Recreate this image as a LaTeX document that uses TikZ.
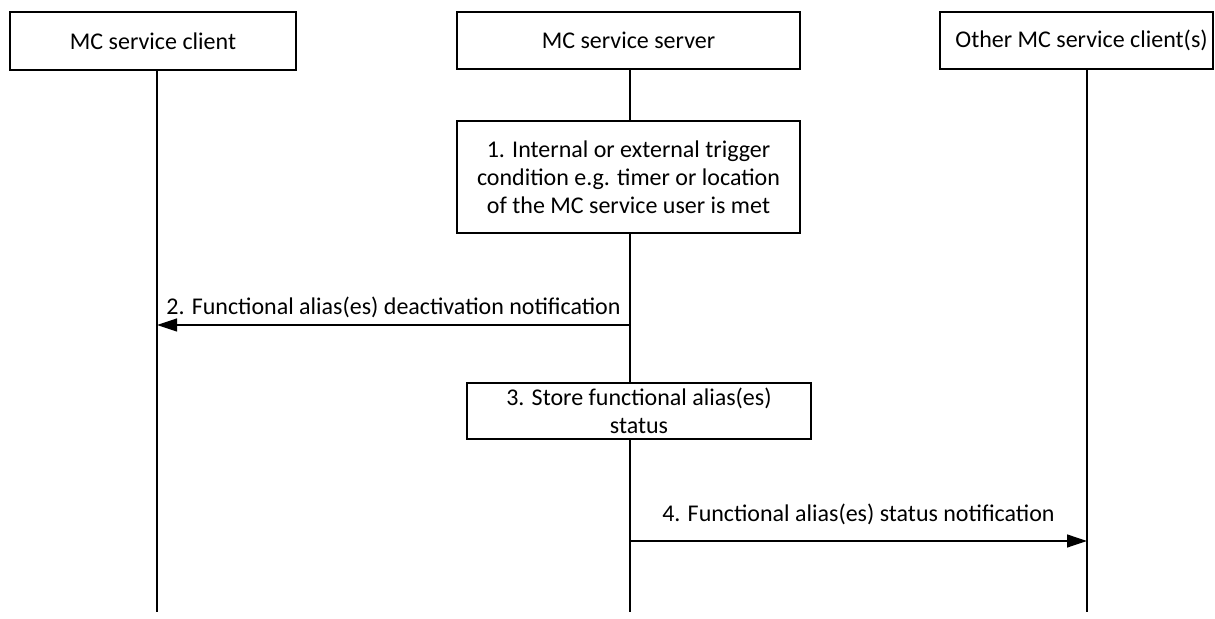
\documentclass[tikz,border=0pt]{standalone}
\usepackage{fontspec}
\setmainfont{Carlito}
\usetikzlibrary{arrows.meta}
\begin{document}
\begin{tikzpicture}[x=0.5pt,y=-0.5pt,
  font=\fontsize{12}{14}\selectfont,
  box/.style={draw, line width=0.6pt, align=center, inner sep=0pt},
  life/.style={line width=0.6pt},
  msg/.style={line width=0.6pt, -{Triangle[length=10pt,width=6.5pt]}}]
\useasboundingbox (0,0) rectangle (1215,619);
\node[box, minimum width=143pt, minimum height=29pt] (cli) at (153,41) {MC service client};
\node[box, minimum width=171.5pt, minimum height=28.5pt] (srv) at (628.5,40.5) {MC service server};
\node[box, minimum width=136.5pt, minimum height=28.5pt] (oth) at (1076.5,40.5) {\hspace*{5pt}Other MC service client(s)};
\node[box, minimum width=171.5pt, minimum height=56pt] (trig) at (628.5,177) {1. Internal or external trigger\\condition e.g. timer or location\\of the MC service user is met};
\node[box, minimum width=172pt, minimum height=28pt] (store) at (639,411) {3. Store functional alias(es)\\status};
\coordinate (cliend) at (157,612);
\coordinate (srvend) at (630,612);
\coordinate (othend) at (1087,612);
\draw[life] (cli.south -| cliend) -- (cliend);
\draw[life] (srv.south -| srvend) -- (trig.north -| srvend);
\draw[life] (trig.south -| srvend) -- (store.north -| srvend);
\draw[life] (store.south -| srvend) -- (srvend);
\draw[life] (oth.south -| othend) -- (othend);
\coordinate (deact) at (630,325);
\draw[msg] (deact) -- (deact -| cliend) node[midway, above=0pt] {2. Functional alias(es) deactivation notification};
\coordinate (stat) at (630,541);
\draw[msg] (stat) -- (stat -| othend) node[midway, above=4.5pt] {4. Functional alias(es) status notification};
\end{tikzpicture}
\end{document}
